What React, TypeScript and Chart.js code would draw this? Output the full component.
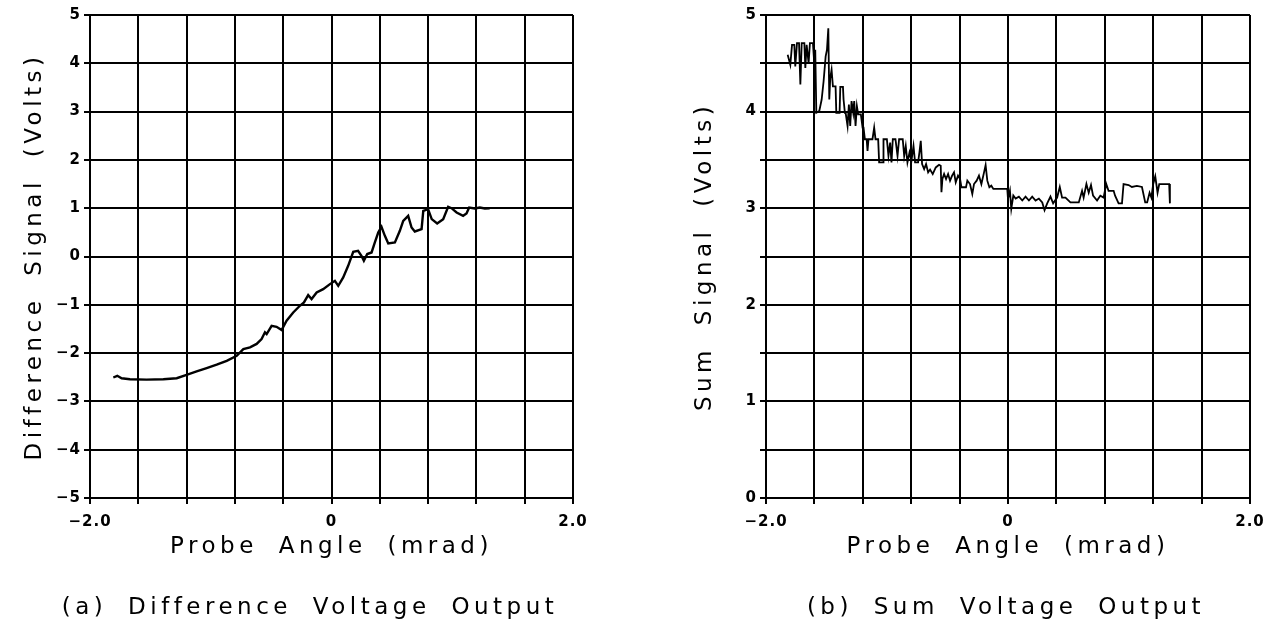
import React, { useEffect, useRef } from 'react';
import { Chart, registerables } from 'chart.js';

Chart.register(...registerables);

// ---- Data: (a) Difference signal ----
const diffAngle = [
  -1.807, -1.774, -1.738, -1.669, -1.531, -1.393, -1.282, -1.2, -1.117, -1.034,
  -0.951, -0.868, -0.785, -0.73, -0.675, -0.62, -0.579, -0.551, -0.537, -0.496,
  -0.455, -0.413, -0.372, -0.317, -0.262, -0.228, -0.193, -0.165, -0.123, -0.069,
  -0.013, 0.028, 0.056, 0.097, 0.138, 0.18, 0.22, 0.248, 0.268, 0.296,
  0.332, 0.359, 0.387, 0.414, 0.442, 0.47, 0.525, 0.566, 0.594, 0.635,
  0.663, 0.69, 0.746, 0.76, 0.8, 0.83, 0.875, 0.925, 0.966, 0.994,
  1.036, 1.09, 1.118, 1.14, 1.187, 1.228, 1.27, 1.31,
];
const diffVolts = [
  -2.505, -2.47, -2.52, -2.54, -2.55, -2.54, -2.52, -2.45, -2.38, -2.31,
  -2.24, -2.16, -2.056, -1.917, -1.88, -1.81, -1.71, -1.57, -1.607, -1.435,
  -1.455, -1.524, -1.331, -1.16, -1.02, -0.95, -0.8, -0.88, -0.745, -0.676,
  -0.572, -0.503, -0.607, -0.434, -0.193, 0.097, 0.118, 0.014, -0.09, 0.05,
  0.083, 0.29, 0.497, 0.615, 0.428, 0.27, 0.29, 0.532, 0.739, 0.842,
  0.6, 0.518, 0.567, 0.946, 0.98, 0.774, 0.683, 0.774, 1.029, 1.0,
  0.911, 0.842, 0.89, 1.015, 0.994, 1.015, 0.994, 1.0,
];

// ---- Data: (b) Sum signal ----
const sumAngle = [
  -1.821, -1.799, -1.785, -1.766, -1.758, -1.744, -1.727, -1.716, -1.705, -1.683,
  -1.675, -1.664, -1.648, -1.637, -1.612, -1.604, -1.593, -1.584, -1.56, -1.54,
  -1.524, -1.507, -1.496, -1.485, -1.477, -1.469, -1.458, -1.447, -1.425, -1.419,
  -1.392, -1.386, -1.364, -1.359, -1.348, -1.342, -1.326, -1.315, -1.304, -1.293,
  -1.279, -1.271, -1.26, -1.249, -1.238, -1.216, -1.202, -1.194, -1.183, -1.168,
  -1.161, -1.153, -1.12, -1.106, -1.095, -1.073, -1.065, -1.032, -1.029, -1.001,
  -0.988, -0.974, -0.963, -0.952, -0.93, -0.913, -0.9, -0.87, -0.858, -0.845,
  -0.831, -0.814, -0.798, -0.781, -0.768, -0.743, -0.732, -0.721, -0.71, -0.693,
  -0.677, -0.66, -0.644, -0.622, -0.597, -0.57, -0.556, -0.55, -0.542, -0.528,
  -0.512, -0.495, -0.479, -0.462, -0.446, -0.432, -0.413, -0.396, -0.385, -0.347,
  -0.336, -0.314, -0.295, -0.281, -0.259, -0.24, -0.22, -0.198, -0.185, -0.171,
  -0.154, -0.138, -0.121, -0.006, 0.0, 0.016, 0.027, 0.044, 0.063, 0.09,
  0.118, 0.145, 0.173, 0.2, 0.228, 0.255, 0.283, 0.302, 0.324, 0.351,
  0.373, 0.406, 0.428, 0.447, 0.475, 0.516, 0.585, 0.612, 0.625, 0.648,
  0.667, 0.686, 0.703, 0.736, 0.763, 0.79, 0.812, 0.831, 0.873, 0.885,
  0.914, 0.942, 0.955, 0.997, 1.024, 1.065, 1.107, 1.134, 1.15, 1.17,
  1.185, 1.2, 1.217, 1.236, 1.25, 1.277, 1.332, 1.338,
];
const sumVolts = [
  4.588, 4.485, 4.691, 4.691, 4.468, 4.708, 4.708, 4.28, 4.708, 4.708,
  4.451, 4.691, 4.502, 4.708, 4.708, 4.554, 4.64, 3.988, 4.005, 4.125,
  4.314, 4.571, 4.64, 4.863, 4.125, 4.348, 4.434, 4.262, 4.262, 3.988,
  3.988, 4.256, 4.256, 4.125, 3.988, 3.988, 3.851, 4.074, 3.851, 4.108,
  3.988, 4.108, 3.851, 4.057, 3.971, 3.971, 3.834, 3.834, 3.714, 3.714,
  3.594, 3.714, 3.714, 3.834, 3.714, 3.714, 3.474, 3.474, 3.714, 3.714,
  3.542, 3.68, 3.474, 3.714, 3.714, 3.542, 3.714, 3.714, 3.542, 3.645,
  3.474, 3.577, 3.491, 3.645, 3.474, 3.474, 3.577, 3.697, 3.457, 3.405,
  3.457, 3.371, 3.4, 3.354, 3.422, 3.45, 3.44, 3.165, 3.302, 3.354,
  3.302, 3.354, 3.285, 3.337, 3.371, 3.268, 3.337, 3.302, 3.217, 3.217,
  3.285, 3.25, 3.148, 3.25, 3.285, 3.337, 3.25, 3.371, 3.446, 3.285,
  3.217, 3.233, 3.2, 3.2, 3.096, 3.182, 2.994, 3.131, 3.1, 3.12,
  3.08, 3.12, 3.08, 3.12, 3.08, 3.1, 3.06, 2.98, 3.05, 3.12,
  3.05, 3.11, 3.22, 3.11, 3.11, 3.06, 3.06, 3.18, 3.11, 3.25,
  3.16, 3.24, 3.13, 3.08, 3.13, 3.11, 3.25, 3.18, 3.18, 3.13,
  3.05, 3.05, 3.25, 3.24, 3.22, 3.23, 3.22, 3.06, 3.06, 3.16,
  3.11, 3.25, 3.33, 3.16, 3.25, 3.25, 3.25, 3.05,
];

// ---- Tick labels ----
const xLabelValues = [-2, 0, 2];
const xLabelTexts = ['\u22122.0', '0', '2.0'];
const diffYLabelValues = [5, 4, 3, 2, 1, 0, -1, -2, -3, -4, -5];
const diffYLabelTexts = ['5', '4', '3', '2', '1', '0', '\u22121', '\u22122', '\u22123', '\u22124', '\u22125'];
const sumYLabelValues = [0, 1, 2, 3, 4, 5];
const sumYLabelTexts = ['0', '1', '2', '3', '4', '5'];

const FONT = '"DejaVu Sans", "Noto Sans", sans-serif';
const TITLE_SIZE = 23;
const TITLE_LS = '4.5px';
const TITLE_WS = '9px';

function labelFor(values: number[], texts: string[]) {
  return (v: number | string) => {
    const n = Number(v);
    for (let i = 0; i < values.length; i++) {
      if (Math.abs(values[i] - n) < 1e-6) return texts[i];
    }
    return '';
  };
}

const spacingPlugin = {
  id: 'spacingCaption',
  beforeDraw(chart: any) {
    const ctx = chart.ctx as any;
    ctx.letterSpacing = TITLE_LS;
    ctx.wordSpacing = TITLE_WS;
  },
  beforeDatasetsDraw(chart: any) {
    const ctx = chart.ctx as any;
    ctx.letterSpacing = '1px';
    ctx.wordSpacing = '0px';
  },
  afterDraw(chart: any, _args: any, opts: any) {
    const ctx = chart.ctx as any;
    ctx.save();
    ctx.letterSpacing = TITLE_LS;
    ctx.wordSpacing = TITLE_WS;
    ctx.font = `${TITLE_SIZE}px ${FONT}`;
    ctx.fillStyle = '#000';
    ctx.textAlign = 'center';
    ctx.textBaseline = 'middle';
    ctx.fillText(opts.text, opts.x, opts.y);
    ctx.restore();
  },
};

interface PanelProps {
  xs: number[];
  ys: number[];
  yMin: number;
  yMax: number;
  yStep: number;
  yLabelValues: number[];
  yLabelTexts: string[];
  yTitle: string;
  xTitle: string;
  caption: string;
  captionX: number;
  yAxisWidth: number;
  rightPad: number;
  yTitlePad: number;
  lineWidth: number;
}

function Panel(p: PanelProps) {
  const ref = useRef<HTMLCanvasElement | null>(null);
  useEffect(() => {
    if (!ref.current) return;
    const data = p.xs.map((x, i) => ({ x, y: p.ys[i] }));
    const tickFont = { family: FONT, size: 15, weight: 'bold' };
    const titleFont = { family: FONT, size: TITLE_SIZE, weight: 'normal', lineHeight: 1.2 };
    const chart = new Chart(ref.current, {
      type: 'line',
      data: {
        datasets: [
          {
            data,
            borderColor: '#000',
            borderWidth: p.lineWidth,
            pointRadius: 0,
            tension: 0,
            fill: false,
          },
        ],
      },
      options: {
        animation: false,
        responsive: false,
        devicePixelRatio: 1,
        layout: { padding: { left: 0, right: p.rightPad, top: 15, bottom: 0 } },
        plugins: {
          legend: { display: false },
          tooltip: { enabled: false },
          spacingCaption: { text: p.caption, x: p.captionX, y: 608 },
        } as any,
        scales: {
          x: {
            type: 'linear',
            min: -2,
            max: 2,
            afterFit: (s: any) => {
              s.height = 125;
            },
            ticks: {
              stepSize: 0.4,
              autoSkip: false,
              maxRotation: 0,
              padding: 9,
              color: '#000',
              font: tickFont,
              callback: labelFor(xLabelValues, xLabelTexts),
              z: 1,
            } as any,
            grid: { color: '#000', lineWidth: 2, tickLength: 6, drawTicks: true },
            border: { color: '#000', width: 2 },
            title: {
              display: true,
              text: p.xTitle,
              color: '#000',
              font: titleFont as any,
              padding: { top: 0, bottom: 62 },
            },
          },
          y: {
            type: 'linear',
            min: p.yMin,
            max: p.yMax,
            afterFit: (s: any) => {
              s.width = p.yAxisWidth;
            },
            ticks: {
              stepSize: p.yStep,
              autoSkip: false,
              padding: 3,
              color: '#000',
              font: tickFont,
              callback: labelFor(p.yLabelValues, p.yLabelTexts),
              z: 1,
            } as any,
            grid: { color: '#000', lineWidth: 2, tickLength: 6, drawTicks: true },
            border: { color: '#000', width: 2 },
            title: {
              display: true,
              text: p.yTitle,
              color: '#000',
              font: titleFont as any,
              padding: { top: p.yTitlePad, bottom: 0 },
            },
          },
        },
      },
      plugins: [spacingPlugin as any],
    });
    return () => chart.destroy();
  }, []);
  return (
    <canvas
      ref={ref}
      width={641}
      height={623}
      style={{ width: 641, height: 623, display: 'block' }}
    />
  );
}

export default function App() {
  return (
    <div
      style={{
        position: 'fixed',
        left: 0,
        top: 0,
        width: 1282,
        height: 623,
        background: '#fff',
        display: 'flex',
      }}
    >
      <Panel
        xs={diffAngle}
        ys={diffVolts}
        yMin={-5}
        yMax={5}
        yStep={1}
        yLabelValues={diffYLabelValues}
        yLabelTexts={diffYLabelTexts}
        yTitle="Difference Signal (Volts)"
        xTitle="Probe Angle (mrad)"
        caption="(a) Difference Voltage Output"
        captionX={310}
        yAxisWidth={90}
        rightPad={68}
        yTitlePad={21}
        lineWidth={2.4}
      />
      <Panel
        xs={sumAngle}
        ys={sumVolts}
        yMin={0}
        yMax={5}
        yStep={0.5}
        yLabelValues={sumYLabelValues}
        yLabelTexts={sumYLabelTexts}
        yTitle="Sum Signal (Volts)"
        xTitle="Probe Angle (mrad)"
        caption="(b) Sum Voltage Output"
        captionX={365}
        yAxisWidth={125}
        rightPad={32}
        yTitlePad={50}
        lineWidth={1.8}
      />
    </div>
  );
}
